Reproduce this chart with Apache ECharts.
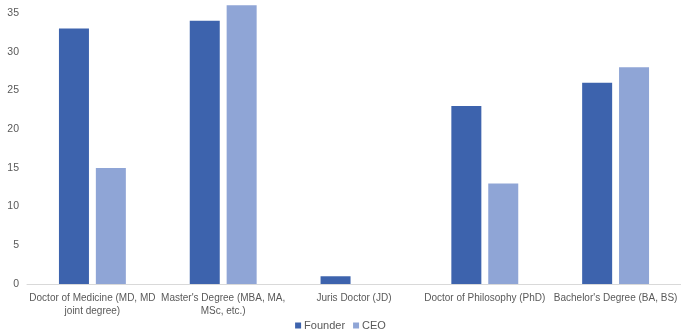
<!DOCTYPE html>
<html>
<head>
<meta charset="utf-8">
<script src="https://cdn.jsdelivr.net/npm/echarts@6/dist/echarts.min.js"></script>
<style>
  html, body { margin: 0; padding: 0; background: #fff; }
  #chart { width: 681px; height: 335px; }
</style>
</head>
<body>
<div id="chart"></div>
<script>
// Highest degree held, by role
const categories = [
  'Doctor of Medicine (MD, MD\njoint degree)',
  "Master's Degree (MBA, MA,\nMSc, etc.)",
  'Juris Doctor (JD)',
  'Doctor of Philosophy (PhD)',
  "Bachelor's Degree (BA, BS)"
];
const founderValues = [33, 34, 1, 23, 26];
const ceoValues = [15, 36, 0, 13, 28];
const yTicks = [0, 5, 10, 15, 20, 25, 30, 35];

const FONT = '"Liberation Sans", Arial, sans-serif';
const chart = echarts.init(document.getElementById('chart'), null, { renderer: 'canvas' });

chart.setOption({
  animation: false,
  textStyle: { fontFamily: FONT },
  grid: { left: 27, right: -9, top: 1.5, bottom: 51, containLabel: false },
  legend: {
    bottom: -1,
    left: 'center',
    itemWidth: 6,
    itemHeight: 6,
    itemGap: 8,
    icon: 'rect',
    textStyle: { color: '#595959', fontSize: 11, fontFamily: FONT, padding: [0, 0, 0, -2] },
    data: ['Founder', 'CEO']
  },
  xAxis: {
    type: 'category',
    data: categories,
    axisLine: { show: true, lineStyle: { color: '#d9d9d9', width: 1 } },
    axisTick: { show: false },
    axisLabel: {
      interval: 0,
      color: '#595959',
      fontSize: 10,
      lineHeight: 13,
      margin: 8,
      fontFamily: FONT
    }
  },
  yAxis: {
    type: 'value',
    min: 0,
    max: 36.5,
    interval: 5,
    splitLine: { show: false },
    axisLine: { show: false },
    axisTick: { show: false },
    axisLabel: {
      color: '#595959',
      fontSize: 10.5,
      margin: 8,
      fontFamily: FONT,
      formatter: v => (yTicks.includes(v) ? String(v) : '')
    }
  },
  series: [
    {
      name: 'Founder',
      type: 'bar',
      data: founderValues,
      barWidth: 30,
      barGap: '23%',
      itemStyle: { color: '#3d63ad' }
    },
    {
      name: 'CEO',
      type: 'bar',
      data: ceoValues,
      barWidth: 30,
      itemStyle: { color: '#8fa5d6' }
    }
  ]
});
</script>
</body>
</html>
